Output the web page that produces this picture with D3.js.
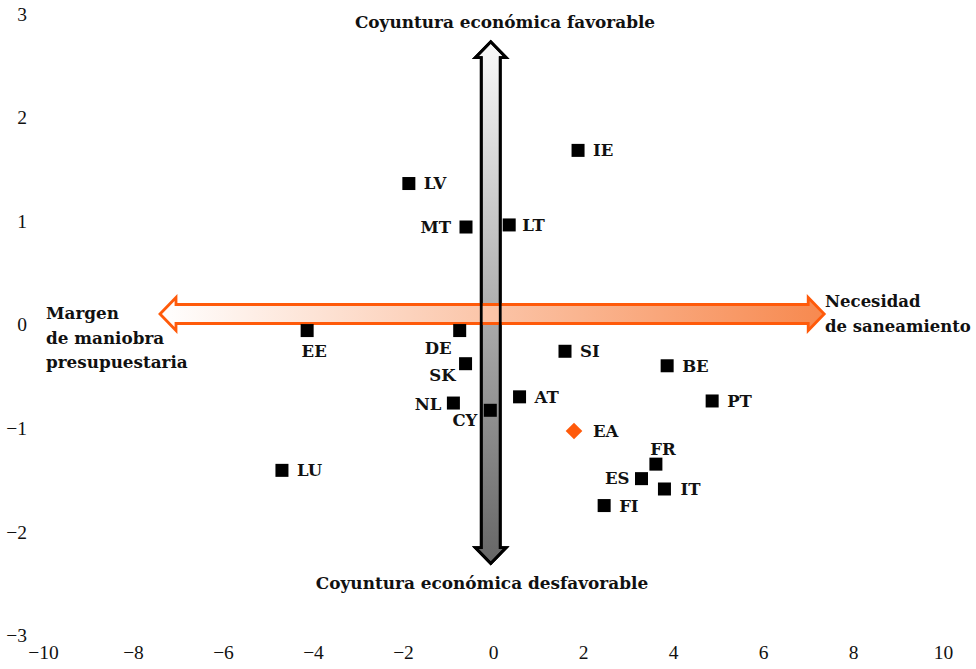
<!DOCTYPE html>
<html><head><meta charset="utf-8">
<script src="https://cdn.jsdelivr.net/npm/d3@7"></script>
<style>body{margin:0;background:#fff}svg{display:block}</style>
</head><body>
<svg id="c" width="976" height="669"></svg>
<script>
// ---- data ----
const countries = ["IE","LV","MT","LT","EE","DE","SK","NL","CY","AT","SI","BE","PT","FR","ES","IT","FI","LU"];
const xValues =   [1.89,-1.87,-0.60,0.36,-4.13,-0.74,-0.61,-0.88,-0.06,0.59,1.60,3.87,4.87,3.62,3.30,3.81,2.47,-4.69];
const yValues =   [1.68,1.36,0.94,0.96,-0.06,-0.06,-0.38,-0.76,-0.83,-0.70,-0.26,-0.40,-0.74,-1.35,-1.49,-1.59,-1.75,-1.41];
const aggregateName = ["EA"];
const aggregateX = [1.80];
const aggregateY = [-1.03];
const xTicks = [-10,-8,-6,-4,-2,0,2,4,6,8,10];
const yTicks = [-3,-2,-1,0,1,2,3];
const topText = "Coyuntura económica favorable";
const bottomText = "Coyuntura económica desfavorable";
const leftText = ["Margen","de maniobra","presupuestaria"];
const rightText = ["Necesidad","de saneamiento"];

// label placement (pixel offsets, styling only)
const place = {
  IE:{dx:15,dy:0,a:"start"}, LV:{dx:15,dy:0,a:"start"}, MT:{dx:-15,dy:0,a:"end"},
  LT:{dx:13,dy:0,a:"start"}, EE:{dx:7,dy:20,a:"middle"}, DE:{dx:-8,dy:17,a:"end"},
  SK:{dx:-10,dy:11,a:"end"}, NL:{dx:-12,dy:1,a:"end"}, CY:{dx:-13,dy:10,a:"end"},
  AT:{dx:15,dy:0,a:"start"}, SI:{dx:15,dy:0,a:"start"}, BE:{dx:15,dy:0,a:"start"},
  PT:{dx:15,dy:0,a:"start"}, FR:{dx:7,dy:-15,a:"middle"}, ES:{dx:-12,dy:-1,a:"end"},
  IT:{dx:16,dy:0,a:"start"}, FI:{dx:15,dy:0,a:"start"}, LU:{dx:15,dy:0,a:"start"},
  EA:{dx:19,dy:0,a:"start"}
};

const svg = d3.select("#c");
const x = d3.scaleLinear().domain([-10,10]).range([43,943]);
const y = d3.scaleLinear().domain([-3,3]).range([635,13.7]);

const tickFont = "'Liberation Serif', serif";
const boldFont = "'DejaVu Serif', serif";

// axes (labels only)
const xAxis = d3.axisBottom(x).tickValues(xTicks).tickSize(0).tickPadding(0)
  .tickFormat(d => d3.format("")(d).replace("-", "\u2212"));
const gx = svg.append("g").attr("transform","translate(0,645)").call(xAxis);
gx.select(".domain").remove();
gx.selectAll("text").attr("font-family",tickFont).attr("font-size","19.5px").attr("fill","#111").attr("dy","0.72em");

const yAxis = d3.axisLeft(y).tickValues(yTicks).tickSize(0).tickPadding(0)
  .tickFormat(d => d3.format("")(d).replace("-", "\u2212"));
const gy = svg.append("g").attr("transform","translate(27,0)").call(yAxis);
gy.select(".domain").remove();
gy.selectAll("text").attr("font-family",tickFont).attr("font-size","19.5px").attr("fill","#111").attr("dy","0.34em");

// gradients
const defs = svg.append("defs");
const hg = defs.append("linearGradient").attr("id","hg").attr("x1","0").attr("x2","1").attr("y1","0").attr("y2","0");
hg.append("stop").attr("offset","0").attr("stop-color","#ffffff");
hg.append("stop").attr("offset","1").attr("stop-color","#f7894f");
const vg = defs.append("linearGradient").attr("id","vg").attr("x1","0").attr("x2","0").attr("y1","0").attr("y2","1");
vg.append("stop").attr("offset","0").attr("stop-color","#f9f9f9");
vg.append("stop").attr("offset","1").attr("stop-color","#666666");

// arrows
function hArrow(x0,x1,yc,sh,hh,hl){
  return `M${x0},${yc} L${x0+hl},${yc-hh} L${x0+hl},${yc-sh} L${x1-hl},${yc-sh} L${x1-hl},${yc-hh} L${x1},${yc} L${x1-hl},${yc+hh} L${x1-hl},${yc+sh} L${x0+hl},${yc+sh} L${x0+hl},${yc+hh} Z`;
}
function vArrow(y0,y1,xc,sw,hw,hl){
  return `M${xc},${y0} L${xc+hw},${y0+hl} L${xc+sw},${y0+hl} L${xc+sw},${y1-hl} L${xc+hw},${y1-hl} L${xc},${y1} L${xc-hw},${y1-hl} L${xc-sw},${y1-hl} L${xc-sw},${y0+hl} L${xc-hw},${y0+hl} Z`;
}
const vPath = vArrow(y(2.73), y(-2.31), x(-0.05), 9.5, 15.5, 16);
const hPath = hArrow(x(-7.4), x(7.36), y(0.1), 9.5, 16.5, 16);
svg.append("path").attr("d",vPath).attr("fill","url(#vg)").attr("stroke","#000").attr("stroke-width",2.8).attr("stroke-linejoin","miter");
svg.append("path").attr("d",hPath).attr("fill","url(#hg)").attr("stroke","#ff5a0a").attr("stroke-width",2.8).attr("stroke-linejoin","miter");
svg.append("path").attr("d",vPath).attr("fill","none").attr("stroke","#000").attr("stroke-width",2.8).attr("stroke-linejoin","miter");

// points
const pts = countries.map((c,i)=>({c, x:xValues[i], y:yValues[i]}));
svg.selectAll("rect.pt").data(pts).enter().append("rect").attr("class","pt")
  .attr("x",d=>x(d.x)-6.5).attr("y",d=>y(d.y)-6.5).attr("width",13).attr("height",13).attr("fill","#000");
const agg = aggregateName.map((c,i)=>({c, x:aggregateX[i], y:aggregateY[i]}));
svg.selectAll("path.agg").data(agg).enter().append("path").attr("class","agg")
  .attr("d",d=>{const cx=x(d.x), cy=y(d.y), r=8.3; return `M${cx},${cy-r} L${cx+r},${cy} L${cx},${cy+r} L${cx-r},${cy} Z`;})
  .attr("fill","#ff5a0a");

// labels
svg.selectAll("text.lab").data(pts.concat(agg)).enter().append("text").attr("class","lab")
  .attr("x",d=>x(d.x)+place[d.c].dx).attr("y",d=>y(d.y)+place[d.c].dy)
  .attr("dy","0.36em").attr("text-anchor",d=>place[d.c].a)
  .attr("font-family",boldFont).attr("font-weight","bold").attr("font-size","16.5px").attr("fill","#111")
  .text(d=>d.c);

// annotations
const ann = svg.append("g").attr("font-family",boldFont).attr("font-weight","bold").attr("font-size","16.5px").attr("fill","#111");
ann.append("text").attr("x",505).attr("y",28).attr("text-anchor","middle").attr("font-size","16.9px").text(topText);
ann.append("text").attr("x",482).attr("y",589).attr("text-anchor","middle").attr("font-size","16.9px").text(bottomText);
leftText.forEach((t,i)=>ann.append("text").attr("x",46).attr("y",319+i*24.5).attr("font-size","16.8px").text(t));
rightText.forEach((t,i)=>ann.append("text").attr("x",825).attr("y",307+i*25).text(t));
</script>
</body></html>
